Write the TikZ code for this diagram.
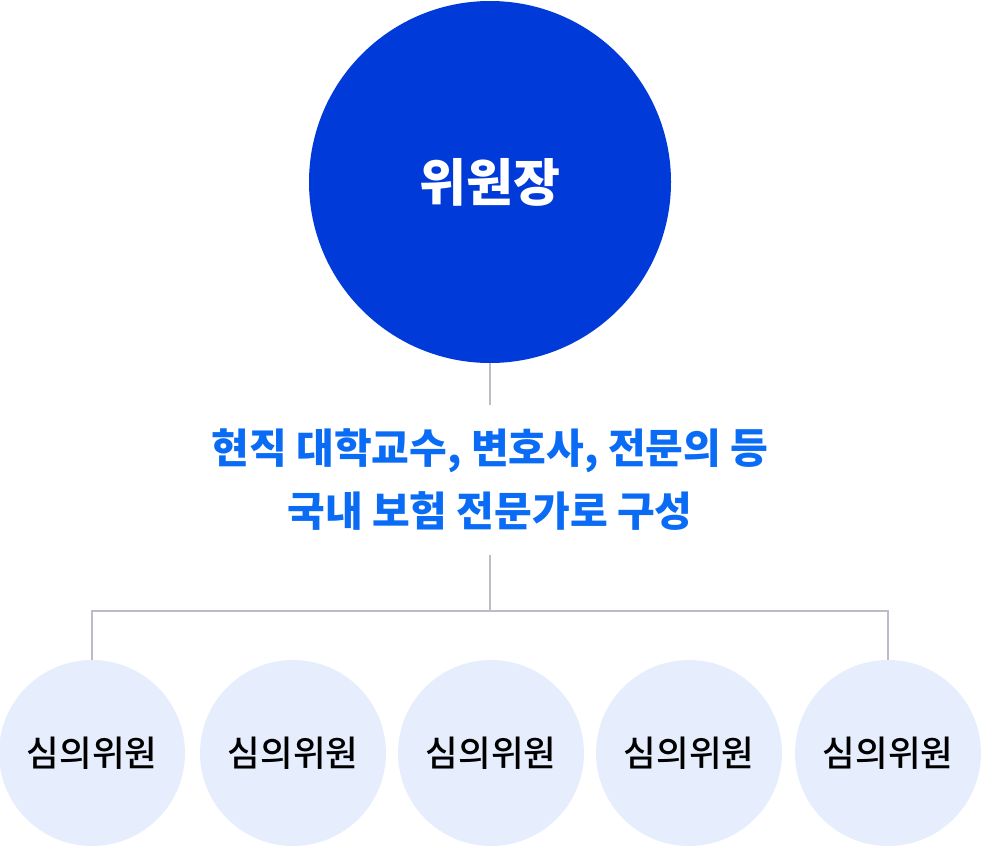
\documentclass[tikz,border=0pt]{standalone}
\usepackage{fontspec}
\setmainfont{Noto Sans CJK KR}
\newfontfamily\medfont{Noto Sans CJK KR Medium}
\usepackage{tikz}

\definecolor{chairblue}{RGB}{0,59,217}
\definecolor{memberblue}{RGB}{230,238,253}
\definecolor{textblue}{RGB}{10,108,245}
\definecolor{linegray}{RGB}{186,189,197}

\begin{document}
\begin{tikzpicture}[x=1pt,y=-1pt]
  \tikzset{org circle/.style={circle,inner sep=0pt,fill=#1},
           link/.style={draw=linegray,line width=2.4pt}}
  \useasboundingbox (0,0) rectangle (981,846);

  \node [org circle=chairblue,minimum size=362pt,text=white,font=\fontsize{51}{56}\selectfont\bfseries] (chair) at (490,182) {위원장};
  \node [align=center,text=textblue,minimum height=150pt,font=\fontsize{41}{63}\selectfont\bfseries] (desc) at (490,480) {현직 대학교수, 변호사, 전문의 등\\국내 보험 전문가로 구성};
  \foreach \i/\x in {1/92,2/293,3/491,4/689,5/888}
    \node [org circle=memberblue,minimum size=186pt,font=\fontsize{35.5}{40}\selectfont\medfont] (m\i) at (\x,753) {심의위원};
  \coordinate (hub) at (490,611);

  \draw [link] (chair.south) -- (desc.north);
  \draw [link] (desc.south) -- (hub);
  \draw [link] (m1.north) |- (hub) -| (m5.north);
\end{tikzpicture}
\end{document}
